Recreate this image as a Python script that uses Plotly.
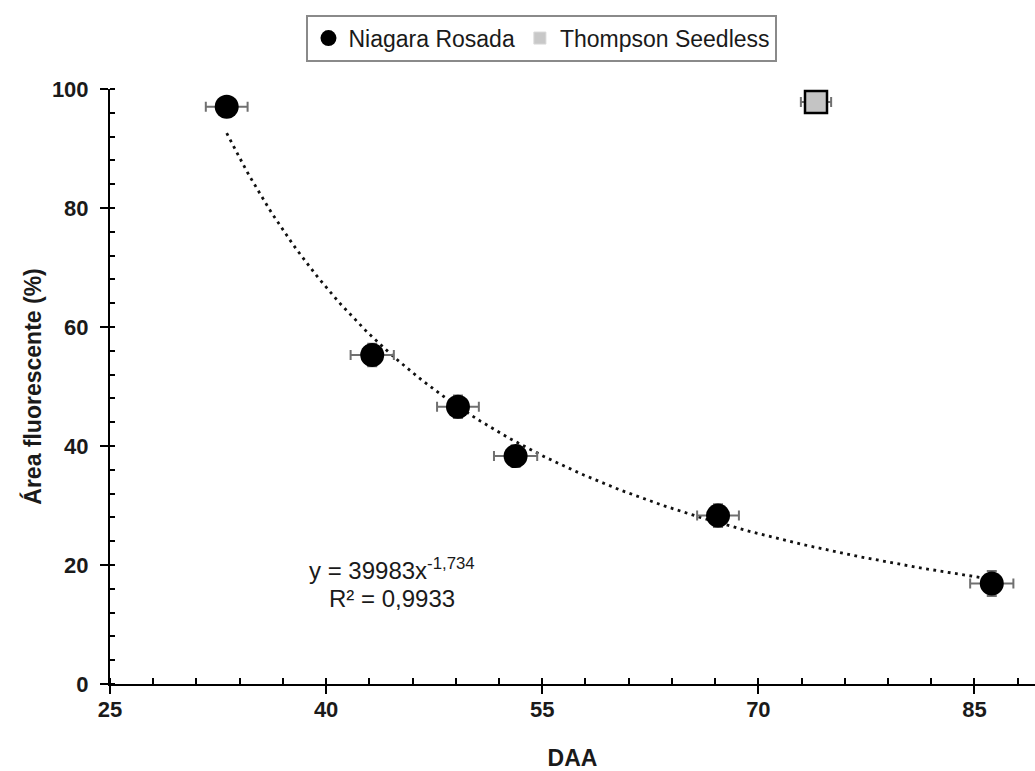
import numpy as np
import plotly.graph_objects as go

# Data
niagara_daa = [33.1, 43.2, 49.15, 53.15, 67.2, 86.2]
niagara_area = [97.0, 55.3, 46.6, 38.3, 28.3, 16.9]
niagara_daa_err = [1.45, 1.5, 1.45, 1.5, 1.45, 1.5]
niagara_area_err = [1.2, 1.9, 1.9, 1.8, 1.9, 2.1]

thompson_daa = [74.0]
thompson_area = [97.8]
thompson_daa_err = [1.05]
thompson_area_err = [1.0]

fit_a = 39983
fit_b = -1.734
r2_text = "R² = 0,9933"
eq_text = "y = 39983x<sup>-1,734</sup>"

x_ticks = [25, 40, 55, 70, 85]
y_ticks = [0, 20, 40, 60, 80, 100]

FONT = "Liberation Sans, Arial, sans-serif"
ERR_COLOR = "#707070"
TXT = "#1a1a1a"

fit_x = np.linspace(min(niagara_daa), max(niagara_daa), 200)
fit_y = fit_a * fit_x ** fit_b

fig = go.Figure()

fig.add_trace(go.Scatter(
    x=fit_x, y=fit_y, mode="lines",
    line=dict(color="#111111", width=2.8, dash="2.8px,4.5px"),
    showlegend=False, hoverinfo="skip",
))

fig.add_trace(go.Scatter(
    x=niagara_daa, y=niagara_area, mode="markers", name="Niagara Rosada",
    marker=dict(symbol="circle", size=24, color="black"),
    error_x=dict(type="data", array=niagara_daa_err, color=ERR_COLOR, thickness=2, width=5),
    error_y=dict(type="data", array=niagara_area_err, color=ERR_COLOR, thickness=2, width=5),
    showlegend=False,
))

fig.add_trace(go.Scatter(
    x=thompson_daa, y=thompson_area, mode="markers", name="Thompson Seedless",
    marker=dict(symbol="square", size=22, color="#c4c4c4", line=dict(color="black", width=2.5)),
    error_x=dict(type="data", array=thompson_daa_err, color=ERR_COLOR, thickness=2, width=5),
    error_y=dict(type="data", array=thompson_area_err, color=ERR_COLOR, thickness=2, width=5),
    showlegend=False,
))

# legend-only entries (legend symbols differ from plotted markers in the reference)
fig.add_trace(go.Scatter(x=[None], y=[None], mode="markers", name="Niagara Rosada",
                         marker=dict(symbol="circle", size=16, color="black")))
fig.add_trace(go.Scatter(x=[None], y=[None], mode="markers", name="Thompson Seedless",
                         marker=dict(symbol="square", size=12, color="#c8c8c8",
                                     line=dict(color="#d8d8d8", width=1))))

# invisible helper trace for inner halves of the crossing major ticks
fig.add_trace(go.Scatter(x=[None], y=[None], xaxis="x2", yaxis="y2",
                         showlegend=False, hoverinfo="skip"))

fig.update_layout(
    width=1035, height=771,
    margin=dict(l=110, r=0, t=89, b=87),
    paper_bgcolor="white", plot_bgcolor="white",
    font=dict(family=FONT, size=22, color=TXT),
    showlegend=True,
    legend=dict(
        orientation="h", x=0.467, xanchor="center", y=1.125, yanchor="top",
        font=dict(family=FONT, size=23, color=TXT),
        bordercolor="#8a8a8a", borderwidth=2, bgcolor="white",
        itemwidth=30, tracegroupgap=0,
    ),
    xaxis=dict(
        range=[25, 89.2], tickvals=x_ticks, ticks="outside", ticklen=8, tickwidth=2,
        tickcolor="black", showline=True, linecolor="black", linewidth=2,
        showgrid=False, zeroline=False, automargin=False,
        tickfont=dict(family=FONT, size=22, color=TXT, weight="bold"),
        ticklabelstandoff=-3,
        minor=dict(dtick=3, tick0=25, ticks="inside", ticklen=6, tickwidth=2, tickcolor="black", showgrid=False),
        title=dict(text="<b>DAA</b>", font=dict(family=FONT, size=23, color=TXT), standoff=40),
    ),
    yaxis=dict(
        range=[0, 100], tickvals=y_ticks, ticks="outside", ticklen=8, tickwidth=2,
        tickcolor="black", showline=True, linecolor="black", linewidth=2,
        showgrid=False, zeroline=False, automargin=False,
        tickfont=dict(family=FONT, size=22, color=TXT, weight="bold"),
        ticklabelstandoff=7,
        minor=dict(dtick=4, tick0=0, ticks="inside", ticklen=5, tickwidth=2, tickcolor="black", showgrid=False),
        title=dict(text="<b>Área fluorescente (%)</b>", font=dict(family=FONT, size=23, color=TXT), standoff=4),
    ),
    xaxis2=dict(
        range=[25, 89.2], tickvals=x_ticks, ticks="inside", ticklen=6, tickwidth=2,
        tickcolor="black", showticklabels=False, showline=False, showgrid=False,
        zeroline=False, overlaying="x", anchor="y2", side="bottom", automargin=False,
    ),
    yaxis2=dict(
        range=[0, 100], tickvals=y_ticks, ticks="inside", ticklen=5, tickwidth=2,
        tickcolor="black", showticklabels=False, showline=False, showgrid=False,
        zeroline=False, overlaying="y", anchor="x2", side="left", automargin=False,
    ),
)

fig.add_annotation(x=44.6, y=19.3, xref="x", yref="y", text=eq_text, showarrow=False,
                   font=dict(family=FONT, size=24, color=TXT), xanchor="center", yanchor="middle")
fig.add_annotation(x=44.6, y=14.4, xref="x", yref="y", text=r2_text, showarrow=False,
                   font=dict(family=FONT, size=24, color=TXT), xanchor="center", yanchor="middle")

fig.write_html("out.html")
